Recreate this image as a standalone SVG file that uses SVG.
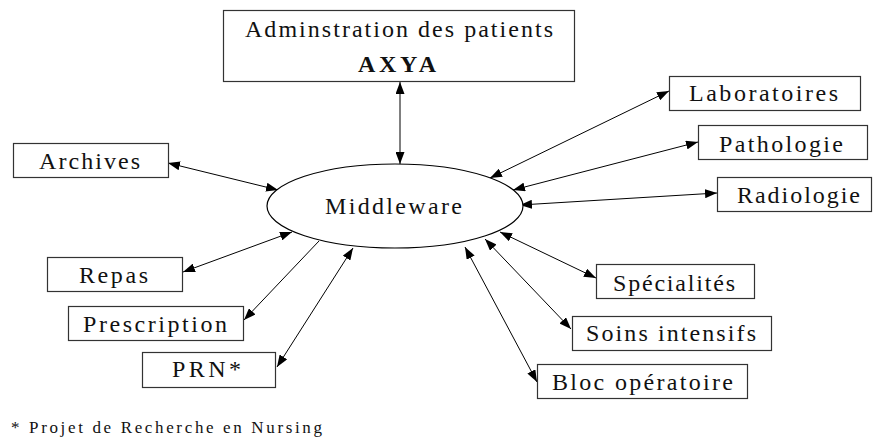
<svg xmlns="http://www.w3.org/2000/svg" width="873" height="441" viewBox="0 0 873 441">
<defs>
<marker id="ah" markerUnits="userSpaceOnUse" markerWidth="12" markerHeight="9" refX="12" refY="4.5" orient="auto-start-reverse"><path d="M0,0 L12,4.5 L0,9 z" fill="#000"/></marker>
</defs>
<style>
.box{fill:#fff;stroke:#333;stroke-width:1.2}
.edge{stroke:#000;stroke-width:1;fill:none}
.both{marker-start:url(#ah);marker-end:url(#ah)}
.one{marker-end:url(#ah)}
text{font-family:"Liberation Serif",serif;font-size:24px;fill:#111}
text.foot{font-size:17px}
</style>
<rect width="873" height="441" fill="#fff"/>
<g id="connectors">
<line class="edge both" x1="400" y1="82" x2="400" y2="164"/>
<line class="edge both" x1="168" y1="163" x2="278" y2="190"/>
<line class="edge both" x1="183" y1="272" x2="292" y2="232"/>
<line class="edge one" x1="319" y1="241" x2="244" y2="320"/>
<line class="edge both" x1="277" y1="367" x2="353" y2="248"/>
<line class="edge both" x1="669" y1="91" x2="490" y2="178"/>
<line class="edge both" x1="698" y1="142" x2="513" y2="190"/>
<line class="edge both" x1="717" y1="193" x2="520" y2="205"/>
<line class="edge both" x1="596" y1="278" x2="500" y2="232"/>
<line class="edge both" x1="571" y1="329" x2="485" y2="239"/>
<line class="edge both" x1="537" y1="382" x2="465" y2="247"/>
</g>
<g id="admin">
<rect class="box" x="223.5" y="10.5" width="351" height="71"/>
<text x="245" y="37" textLength="308" lengthAdjust="spacing">Adminstration des patients</text>
<text x="358" y="72" font-weight="bold" textLength="78" lengthAdjust="spacing">AXYA</text>
</g>
<g id="middleware">
<ellipse cx="395" cy="206" rx="128" ry="42" fill="#fff" stroke="#000" stroke-width="1.2"/>
<text x="325" y="214" textLength="137" lengthAdjust="spacing">Middleware</text>
</g>
<g id="archives">
<rect class="box" x="13.5" y="143.5" width="155" height="34"/>
<text x="39" y="169" textLength="101" lengthAdjust="spacing">Archives</text>
</g>
<g id="repas">
<rect class="box" x="47.5" y="257.5" width="135" height="34"/>
<text x="79" y="283" textLength="69" lengthAdjust="spacing">Repas</text>
</g>
<g id="prescription">
<rect class="box" x="68.5" y="306.5" width="175" height="34"/>
<text x="83" y="332" textLength="144" lengthAdjust="spacing">Prescription</text>
</g>
<g id="prn">
<rect class="box" x="142.5" y="352.5" width="133" height="35"/>
<text x="172" y="377" textLength="69" lengthAdjust="spacing">PRN*</text>
</g>
<g id="laboratoires">
<rect class="box" x="669.5" y="76.5" width="191" height="34"/>
<text x="689" y="101" textLength="149" lengthAdjust="spacing">Laboratoires</text>
</g>
<g id="pathologie">
<rect class="box" x="698.5" y="125.5" width="169" height="34"/>
<text x="719" y="152" textLength="124" lengthAdjust="spacing">Pathologie</text>
</g>
<g id="radiologie">
<rect class="box" x="717.5" y="177.5" width="154" height="34"/>
<text x="737" y="203" textLength="123" lengthAdjust="spacing">Radiologie</text>
</g>
<g id="specialites">
<rect class="box" x="596.5" y="264.5" width="158" height="34"/>
<text x="613" y="291" textLength="122" lengthAdjust="spacing">Spécialités</text>
</g>
<g id="soins">
<rect class="box" x="572.5" y="316.5" width="199" height="34"/>
<text x="586" y="341" textLength="170" lengthAdjust="spacing">Soins intensifs</text>
</g>
<g id="bloc">
<rect class="box" x="537.5" y="364.5" width="210" height="34"/>
<text x="552" y="390" textLength="181" lengthAdjust="spacing">Bloc opératoire</text>
</g>
<g id="footnote">
<text class="foot" x="11" y="433" textLength="311" lengthAdjust="spacing">* Projet de Recherche en Nursing</text>
</g>
</svg>
